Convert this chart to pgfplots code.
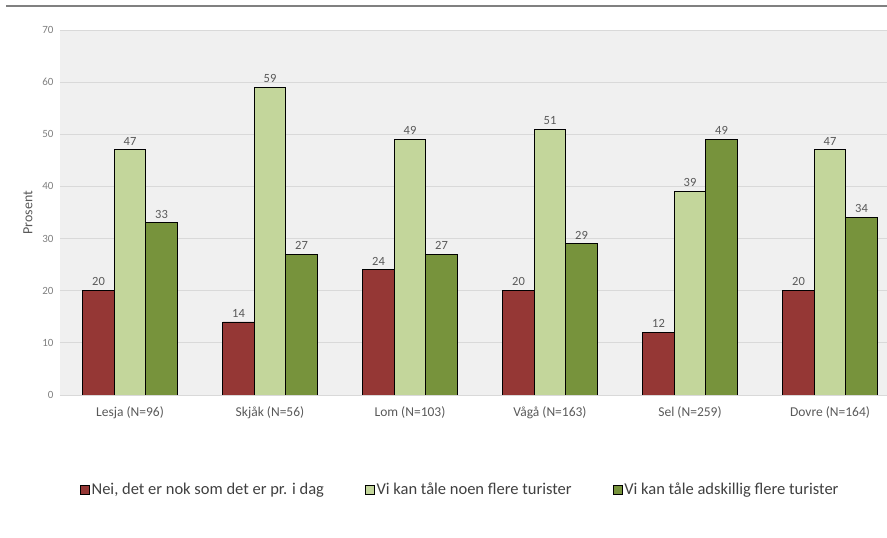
\documentclass[border=0pt]{standalone}
\usepackage{pgfplots}
\pgfplotsset{compat=1.18}
\usepackage{fontspec}
\setmainfont{Carlito}
\definecolor{rodbar}{HTML}{953735}
\definecolor{lysgronn}{HTML}{C3D69B}
\definecolor{morkgronn}{HTML}{77933C}
\definecolor{bakgrunn}{HTML}{F0F0F0}
\definecolor{rutenett}{HTML}{D9D9D9}
\definecolor{tekst}{HTML}{404040}
\definecolor{aksetekst}{HTML}{7F7F7F}
\definecolor{etikett}{HTML}{595959}
\begin{document}
\begin{tikzpicture}[x=1pt,y=1pt]
\useasboundingbox (0,0) rectangle (887,538);
\draw[color=gray, line width=1.2pt] (6,532) -- (887,532);
\begin{axis}[
  at={(60pt,143pt)}, anchor=south west,
  scale only axis, width=827pt, height=365pt,
  ybar=0pt, bar width=31.5pt,
  ymin=0, ymax=70, ytick={0,10,...,70},
  xmin=-0.5, xmax=5.407, xtick={0,...,5},
  xticklabels={Lesja (N=96), Skjåk (N=56), Lom (N=103), Vågå (N=163), Sel (N=259), Dovre (N=164)},
  axis line style={draw=none}, tick style={draw=none},
  ymajorgrids, grid style={color=rutenett, line width=0.8pt},
  axis background/.style={fill=bakgrunn},
  /pgf/number format/assume math mode=true,
  yticklabel style={font=\fontsize{11}{12}\selectfont, text=aksetekst, xshift=-3pt},
  xticklabel style={font=\fontsize{13.5}{15}\selectfont, text=etikett, yshift=-4pt},
  ylabel={Prosent},
  every axis y label/.style={at={(axis description cs:-0.0387,0.5)}, rotate=90, anchor=center, font=\fontsize{14}{16}\selectfont, text=etikett},
  nodes near coords,
  every node near coord/.append style={font=\fontsize{12.5}{14}\selectfont, text=etikett, yshift=1pt},
  legend columns=3,
  legend style={at={(axis description cs:0.484,-0.26)}, anchor=center, draw=none, fill=none,
    font=\fontsize{16.5}{18}\selectfont, text=tekst,
    /tikz/every even column/.append style={column sep=39pt}},
  legend image code/.code={\draw[#1, draw=black, line width=0.6pt] (-2pt,-4.5pt) rectangle (7pt,4.5pt);},
  every axis plot/.append style={draw=black, line width=0.9pt},
]
\addplot[fill=rodbar] coordinates {(0,20) (1,14) (2,24) (3,20) (4,12) (5,20)};
\addplot[fill=lysgronn] coordinates {(0,47) (1,59) (2,49) (3,51) (4,39) (5,47)};
\addplot[fill=morkgronn] coordinates {(0,33) (1,27) (2,27) (3,29) (4,49) (5,34)};
\legend{{Nei, det er nok som det er pr. i dag}, {Vi kan tåle noen flere turister}, {Vi kan tåle adskillig flere turister}}
\end{axis}
\end{tikzpicture}
\end{document}
